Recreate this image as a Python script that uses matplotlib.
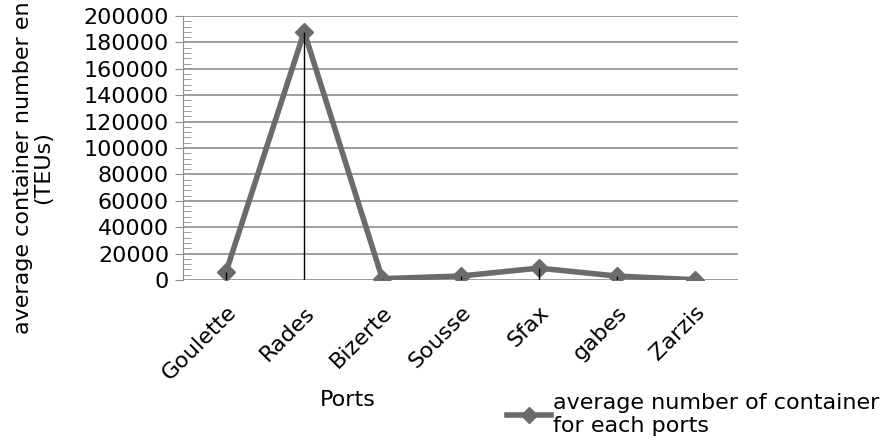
import numpy as np
import matplotlib.pyplot as plt
from matplotlib.ticker import MultipleLocator
from matplotlib.lines import Line2D

ports = ['Goulette', 'Rades', 'Bizerte', 'Sousse', 'Sfax', 'gabes', 'Zarzis']
avg_teus = [6000, 188000, 1000, 3000, 9000, 3000, 200]

plt.rcParams['font.family'] = ['DejaVu Sans']

fig = plt.figure(figsize=(8.85, 4.43), dpi=100)
ax = fig.add_axes([183 / 885, 1 - 280 / 443, (738 - 183) / 885, (280 - 16) / 443])

x = np.arange(len(ports))
gray = '#6b6b6b'

ax.yaxis.grid(True, color='#8c8c8c', lw=1.2)
ax.set_axisbelow(True)
ax.plot(x, avg_teus, color=gray, lw=4, marker='D', ms=9, mec=gray, mfc=gray,
        zorder=3)
# drop lines from each point to the axis
ax.vlines(x, 0, avg_teus, color='black', lw=1, zorder=4)

ax.set_xlim(-0.55, 6.55)
ax.set_ylim(0, 200000)
ax.yaxis.set_major_locator(MultipleLocator(20000))
ax.yaxis.set_minor_locator(MultipleLocator(4000))
ax.tick_params(axis='y', which='major', length=6, color='#8c8c8c',
               labelsize=16, pad=4)
ax.tick_params(axis='y', which='minor', direction='in', length=6,
               color='#8c8c8c')
ax.set_xticks(x)
ax.set_xticklabels(ports, rotation=45, ha='right', rotation_mode='anchor',
                   fontsize=16)
ax.tick_params(axis='x', length=0, pad=16)

for s in ['top', 'right', 'bottom']:
    ax.spines[s].set_visible(False)
ax.spines['left'].set_color('#8c8c8c')

fig.text(348 / 885, 1 - 400 / 443, 'Ports', fontsize=16, ha='center',
         va='center')
fig.text(33 / 885, 1 - 168 / 443, 'average container number en\n(TEUs)',
         fontsize=16, rotation=90, ha='center', va='center', linespacing=1.05,
         multialignment='center')

handle = Line2D([], [], color=gray, lw=4, marker='D', ms=8)
fig.legend([handle], ['average number of container\nfor each ports'],
           loc='lower left', bbox_to_anchor=(500 / 885, 0.0), frameon=False,
           fontsize=16, handlelength=2.0, handletextpad=0.1,
           borderaxespad=0.1, borderpad=0.2)

fig.savefig('out.png', dpi=100)
